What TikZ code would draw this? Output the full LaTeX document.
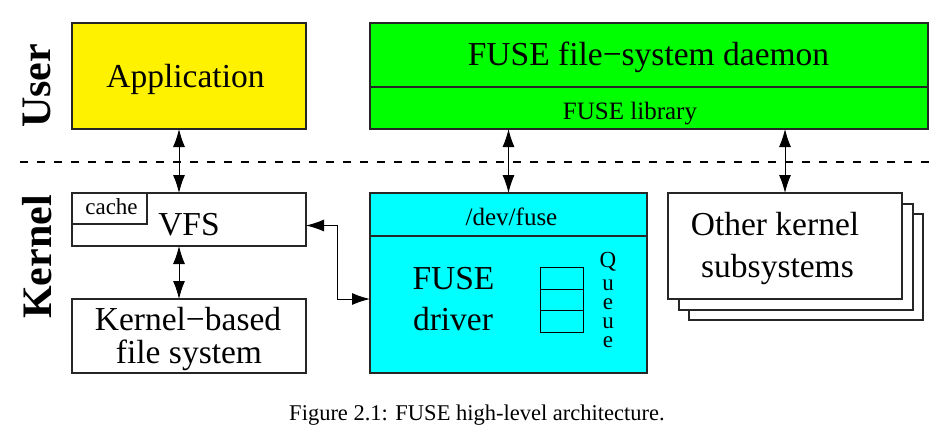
\documentclass[tikz,border=0pt]{standalone}
\usepackage{fontspec}
\setmainfont{Liberation Serif}
\usetikzlibrary{arrows.meta}
\begin{document}
\begin{tikzpicture}[x=1pt,y=-1pt,
  box/.style={draw=black!85, line width=1.1pt, inner sep=0pt, outer sep=0pt, anchor=north west},
  big/.style={font=\fontsize{33.5}{38}\selectfont, anchor=base, inner sep=0pt},
  med/.style={font=\fontsize{25}{28}\selectfont, anchor=base, inner sep=0pt},
  qletter/.style={font=\fontsize{23}{25}\selectfont, anchor=base, inner sep=0pt},
  side/.style={font=\fontsize{42}{46}\selectfont\bfseries, rotate=90, inner sep=0pt},
  arr/.style={{Latex[length=18pt,width=12pt]}-{Latex[length=18pt,width=12pt]}, line width=1pt},
  sep/.style={draw=black!85, line width=1.1pt},
]
\useasboundingbox (0,0) rectangle (949,440);

% side labels
\node[side] (user) at (37,86) {User};
\node[side] (kern) at (37,257) {Kernel};

% dashed separator
\coordinate (dl) at (20,162);
\coordinate (dr) at (930,162);
\draw[line width=2pt, dash pattern=on 8pt off 9pt] (dl) -- (dr);

% Application
\node[box, fill=yellow, minimum width=234pt, minimum height=106pt] (app) at (72,23) {};
\node[big] (apptxt) at (185.5,87) {Application};

% FUSE daemon
\node[box, fill={rgb,255:red,0;green,255;blue,0}, minimum width=558pt, minimum height=106pt] (daemon) at (370,23) {};
\draw[sep] (370,87) -- (928,87);
\node[big] (daemontxt) at (648.5,65) {FUSE file−system daemon};
\node[med] (libtxt) at (630,119) {FUSE library};

% VFS
\node[box, fill=white, minimum width=234pt, minimum height=53pt] (vfs) at (72,193) {};
\node[box, minimum width=75pt, minimum height=31pt] (cache) at (72,193) {};
\node[font=\fontsize{23}{26}\selectfont, anchor=base, inner sep=0pt] (cachetxt) at (111.5,214) {cache};
\node[big] (vfstxt) at (189,235) {VFS};

% Kernel-based file system
\node[box, fill=white, minimum width=234pt, minimum height=74pt] (kfs) at (72,299) {};
\node[big] (kfs1) at (188,330) {Kernel−based};
\node[big] (kfs2) at (189,363) {file system};

% FUSE driver
\node[box, fill={rgb,255:red,0;green,255;blue,255}, minimum width=277pt, minimum height=180pt] (driver) at (370,193) {};
\draw[sep] (370,236) -- (647,236);
\node[med] (devtxt) at (511.5,225) {/dev/fuse};
\node[big] (drv1) at (453.5,289) {FUSE};
\node[big] (drv2) at (453,330) {driver};

% queue
\draw[line width=1pt] (540,267) rectangle (583,332);
\draw[line width=1pt] (540,289) -- (583,289);
\draw[line width=1pt] (540,310) -- (583,310);
\node[qletter] (q1) at (608,267) {Q};
\node[qletter] (q2) at (608,290) {u};
\node[qletter] (q3) at (608,309) {e};
\node[qletter] (q4) at (608,328) {u};
\node[qletter] (q5) at (608,347) {e};

% Other kernel subsystems (stack)
\node[box, fill=white, minimum width=234pt, minimum height=106pt] (other3) at (689,214) {};
\node[box, fill=white, minimum width=234pt, minimum height=106pt] (other2) at (679,204) {};
\node[box, fill=white, minimum width=234pt, minimum height=106pt] (other) at (668,193) {};
\node[big] (oth1) at (775,235) {Other kernel};
\node[big] (oth2) at (777.5,277) {subsystems};

% connectors
\draw[arr] ([xshift=-10pt]app.south) -- ([xshift=-10pt]vfs.north);
\draw[arr] ([xshift=-10pt]vfs.south) -- ([xshift=-10pt]kfs.north);
\draw[arr] (driver.north |- daemon.south) -- (driver.north);
\draw[arr] (other.north |- daemon.south) -- (other.north);
\draw[arr] ([yshift=-6pt]vfs.east) -- ++(31,0) |- ([yshift=-16pt]driver.west);

% caption
\node[font=\fontsize{22.5}{26}\selectfont, anchor=base, inner sep=0pt] (caption) at (477,420) {Figure 2.1: FUSE high-level architecture.};
\end{tikzpicture}
\end{document}
